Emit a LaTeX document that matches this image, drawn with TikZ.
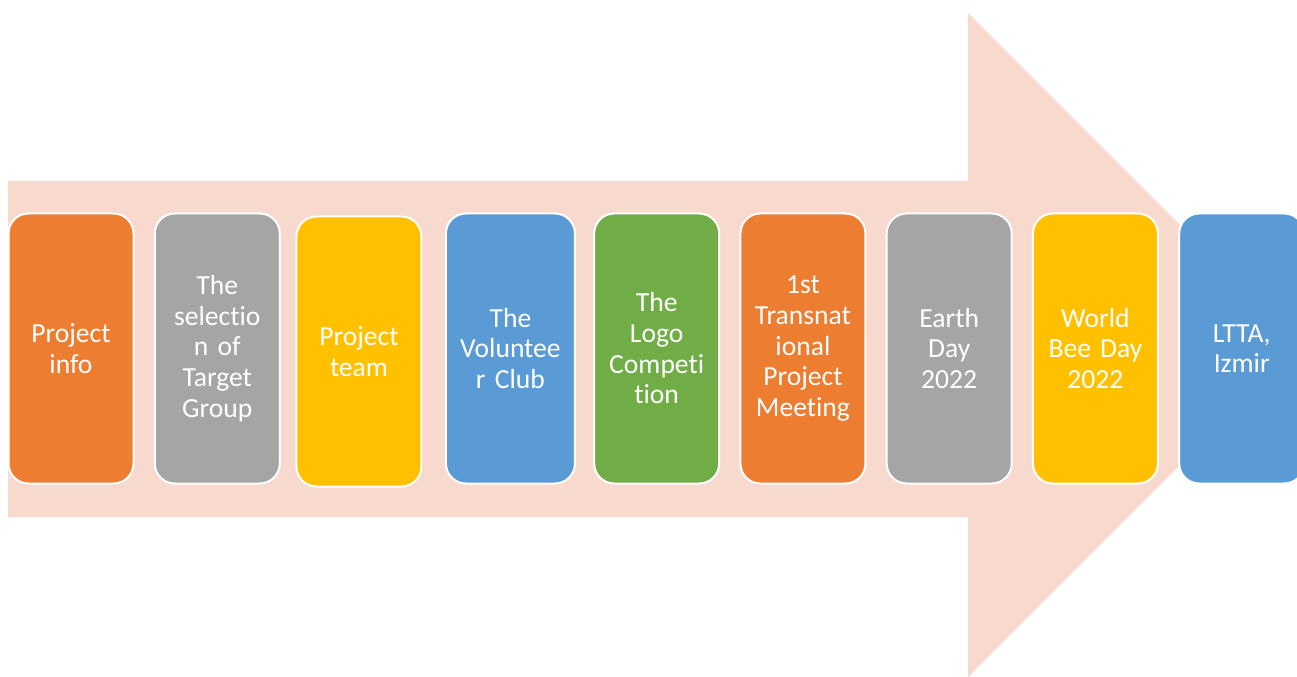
\documentclass[tikz,border=0pt]{standalone}
\usepackage{fontspec}
\setmainfont{Carlito}[Ligatures={NoCommon,NoRequired}]
\usepackage{xcolor}
\usepackage{tikz}
\usetikzlibrary{positioning}

\definecolor{arrowfill}{RGB}{248,217,206}
\definecolor{accorange}{HTML}{ED7D31}
\definecolor{accgray}{HTML}{A5A5A5}
\definecolor{accyellow}{HTML}{FFC000}
\definecolor{accblue}{HTML}{5B9BD5}
\definecolor{accgreen}{HTML}{70AD47}

\begin{document}
\begin{tikzpicture}[x=0.75pt,y=-0.75pt,node distance=109.69pt,on grid,
        event/.style={draw=white,line width=1.5pt,rounded corners=15pt,
            minimum width=93.75pt,minimum height=202.5pt,inner sep=0pt,
            text width=86pt,align=center,text=white,
            font=\fontsize{20.7}{23}\selectfont}]
        \useasboundingbox (0,0) rectangle (1297,677);
        \clip (0,0) rectangle (1297,677);
        % the big arrow behind the steps
        \fill[arrowfill] (8,181) -- (968,181) -- (968,13) -- (1300,345)
            -- (968,677) -- (968,517) -- (8,517) -- cycle;
        \node[event,fill=accorange] (1) at (71,348.5) {Project\\info};
        \node[event,fill=accgray] (2) [right of=1] {The\\selectio\\n of\\Target\\Group};
        \node[event,fill=accyellow] (3) [right of=2,xshift=-3.4pt,yshift=-2.25pt] {Project\\team};
        \node[event,fill=accblue,minimum width=96.75pt] (4) [right of=3,xshift=3.9pt,yshift=2.25pt] {The\\Voluntee\\r Club};
        \node[event,fill=accgreen] (5) [right of=4] {The\\Logo\\Competi\\tion};
        \node[event,fill=accorange] (6) [right of=5] {1st\\Transnat\\ional\\Project\\Meeting};
        \node[event,fill=accgray] (7) [right of=6] {Earth\\Day\\2022};
        \node[event,fill=accyellow] (8) [right of=7] {World\\Bee Day\\2022};
        \node[event,fill=accblue] (9) [right of=8] {LTTA,\\Izmir};
    \end{tikzpicture}
\end{document}
